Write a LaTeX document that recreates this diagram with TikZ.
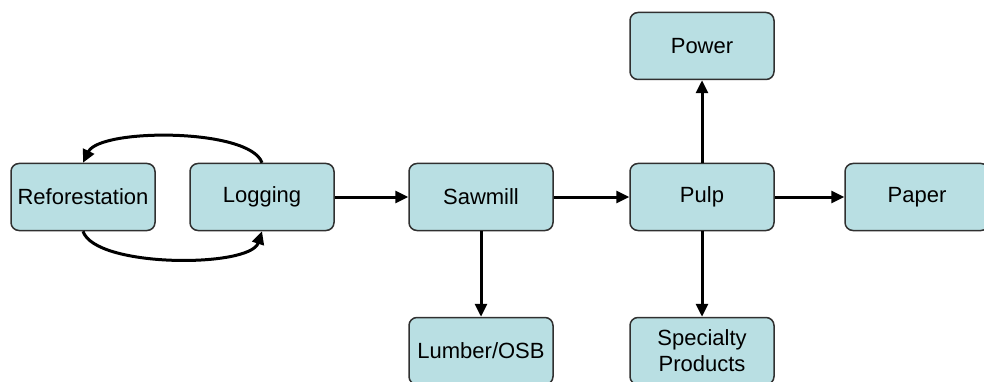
\documentclass[tikz,border=0pt]{standalone}
\usepackage{fontspec}
\setmainfont{Liberation Sans}
\usetikzlibrary{arrows.meta}
\definecolor{boxfill}{HTML}{B9DFE3}
\definecolor{boxline}{HTML}{303030}
\begin{document}
\begin{tikzpicture}[x=1pt,y=-1pt,
  stage/.style={draw=boxline, line width=1.5pt, fill=boxfill, rounded corners=8pt,
    minimum width=144pt, minimum height=67pt, inner sep=2pt, align=center,
    font=\fontsize{22}{26}\selectfont},
  flow/.style={line width=3pt, -{Triangle[length=13pt,width=12pt]}}]
  \useasboundingbox (0,0) rectangle (984,382);
  % stages of the wood supply chain
  \node[stage] (refor) at (83,197) {Reforestation};
  \node[stage] (log)   at (262,197) {Logging};
  \node[stage] (saw)   at (481,197) {Sawmill};
  \node[stage] (pulp)  at (702,197) {Pulp};
  \node[stage] (paper) at (917,197) {Paper};
  \node[stage] (power) at (702,46) {Power};
  \node[stage] (lumb)  at (481,351) {Lumber/OSB};
  \node[stage] (spec)  at (702,351) {Specialty\\Products};
  % main flow
  \draw[flow] (log) -- (saw);
  \draw[flow] (saw) -- (pulp);
  \draw[flow] (pulp) -- (paper);
  \draw[flow] (pulp) -- (power);
  \draw[flow] (saw) -- (lumb);
  \draw[flow] (pulp) -- (spec);
  % regeneration loop
  \draw[flow] (log.north) .. controls (250,128) and (100,128) .. (refor.north);
  \draw[flow] (refor.south) .. controls (95,268) and (250,268) .. (log.south);
\end{tikzpicture}
\end{document}
